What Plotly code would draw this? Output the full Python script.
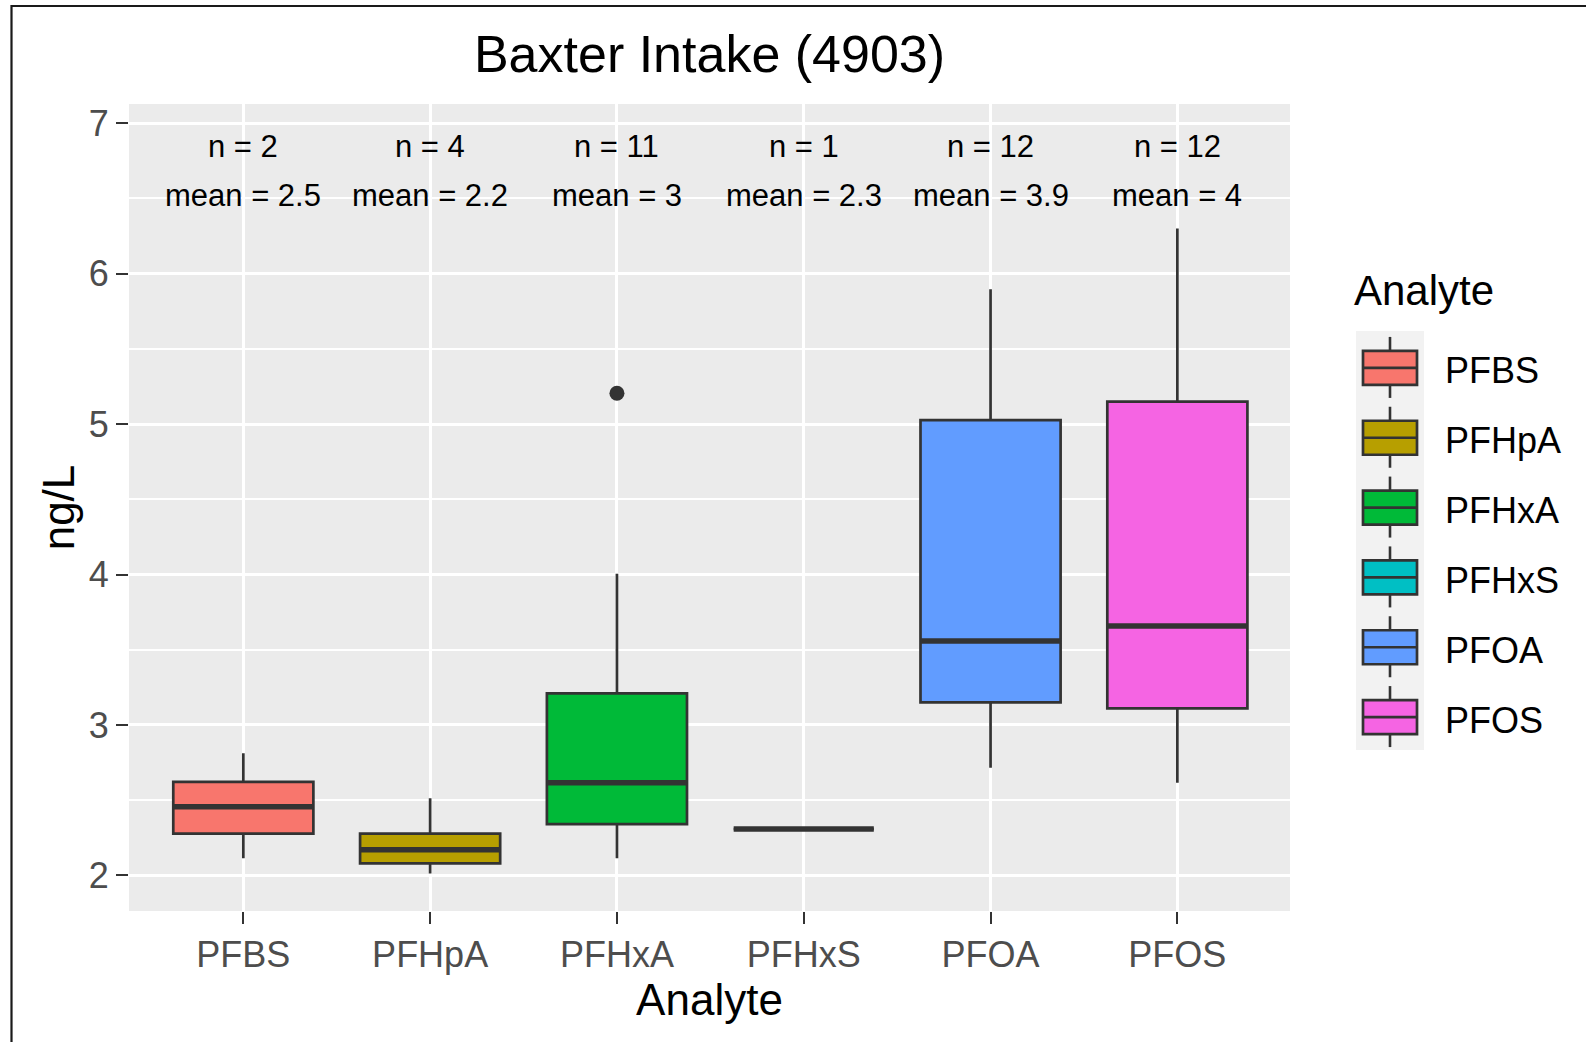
import plotly.graph_objects as go

# ---------------- data ----------------
analytes = ["PFBS", "PFHpA", "PFHxA", "PFHxS", "PFOA", "PFOS"]
lower_whisker = [2.113, 2.013, 2.113, 2.308, 2.716, 2.616]
q1_vals = [2.278, 2.080, 2.341, 2.308, 3.150, 3.110]
median_vals = [2.456, 2.171, 2.616, 2.308, 3.558, 3.658]
q3_vals = [2.622, 2.278, 3.210, 2.308, 5.027, 5.149]
upper_whisker = [2.811, 2.512, 4.005, 2.308, 5.896, 6.300]
outlier_analyte = ["PFHxA"]
outlier_vals = [5.205]
n_counts = [2, 4, 11, 1, 12, 12]
mean_labels = ["2.5", "2.2", "3", "2.3", "3.9", "4"]
colors = ["#F8766D", "#B79F00", "#00BA38", "#00BFC4", "#619CFF", "#F564E3"]
y_ticks = [2, 3, 4, 5, 6, 7]

# ---------------- layout geometry ----------------
W, H = 1586, 1042
L, R, T, B = 129, 296, 104, 131
PW, PH = W - L - R, H - T - B
FONT = "Arial, Liberation Sans, sans-serif"
EDGE = "#333333"
BOX_W = 0.75


def xp(px):
    return (px - L) / PW


def yp(py):
    return (H - B - py) / PH


fig = go.Figure()
pos = list(range(len(analytes)))

for i, a in enumerate(analytes):
    fig.add_trace(go.Box(
        x=[i], q1=[q1_vals[i]], median=[median_vals[i]], q3=[q3_vals[i]],
        lowerfence=[lower_whisker[i]], upperfence=[upper_whisker[i]],
        name=a, fillcolor=colors[i], line=dict(color=EDGE, width=2.7),
        width=BOX_W, whiskerwidth=0, boxpoints=False, showlegend=False,
        hoverinfo="skip"))

# thicker median lines (ggplot style)
for i, a in enumerate(analytes):
    fig.add_trace(go.Scatter(
        x=[i - BOX_W / 2, i + BOX_W / 2], y=[median_vals[i], median_vals[i]],
        mode="lines", line=dict(color=EDGE, width=5.5), showlegend=False,
        hoverinfo="skip"))

# outliers
fig.add_trace(go.Scatter(
    x=[analytes.index(a) for a in outlier_analyte], y=outlier_vals,
    mode="markers", marker=dict(color=EDGE, size=15), showlegend=False,
    hoverinfo="skip"))

# n / mean labels
N_Y, MEAN_Y = 6.846, 6.523
for i, a in enumerate(analytes):
    fig.add_annotation(x=i, y=N_Y, text=f"n = {n_counts[i]}", showarrow=False,
                       font=dict(family=FONT, size=31, color="#000000"),
                       xanchor="center", yanchor="middle")
    fig.add_annotation(x=i, y=MEAN_Y, text=f"mean = {mean_labels[i]}", showarrow=False,
                       font=dict(family=FONT, size=31, color="#000000"),
                       xanchor="center", yanchor="middle")

shapes = []
# outer frame
shapes.append(dict(type="rect", xref="paper", yref="paper",
                   x0=xp(11.5), x1=xp(1620), y0=yp(1080), y1=yp(6),
                   line=dict(color="#1a1a1a", width=2.2), fillcolor="rgba(0,0,0,0)",
                   layer="above"))

# manual ggplot-style legend
LEG_X0, LEG_X1 = 1356, 1424
LEG_Y0, LEG_Y1 = 331, 750
shapes.append(dict(type="rect", xref="paper", yref="paper",
                   x0=xp(LEG_X0), x1=xp(LEG_X1), y0=yp(LEG_Y1), y1=yp(LEG_Y0),
                   line=dict(width=0), fillcolor="#F2F2F2", layer="above"))
fig.add_annotation(xref="paper", yref="paper", x=xp(1352), y=yp(290),
                   text="Analyte", showarrow=False, xanchor="left", yanchor="middle",
                   font=dict(family=FONT, size=42, color="#000000"))
cell = (LEG_Y1 - LEG_Y0) / len(analytes)
bx0, bx1, bxc = 1363, 1417, 1390
for i, a in enumerate(analytes):
    cy = LEG_Y0 + cell * (i + 0.5) + 2
    top, bot = cy - 17, cy + 17
    shapes.append(dict(type="line", xref="paper", yref="paper",
                       x0=xp(bxc), x1=xp(bxc), y0=yp(cy - 31), y1=yp(top),
                       line=dict(color=EDGE, width=2.6), layer="above"))
    shapes.append(dict(type="line", xref="paper", yref="paper",
                       x0=xp(bxc), x1=xp(bxc), y0=yp(bot), y1=yp(cy + 30),
                       line=dict(color=EDGE, width=2.6), layer="above"))
    shapes.append(dict(type="rect", xref="paper", yref="paper",
                       x0=xp(bx0), x1=xp(bx1), y0=yp(bot), y1=yp(top),
                       line=dict(color=EDGE, width=2.7), fillcolor=colors[i], layer="above"))
    shapes.append(dict(type="line", xref="paper", yref="paper",
                       x0=xp(bx0), x1=xp(bx1), y0=yp(cy), y1=yp(cy),
                       line=dict(color=EDGE, width=2.7), layer="above"))
    fig.add_annotation(xref="paper", yref="paper", x=xp(1443), y=yp(cy + 3),
                       text=a, showarrow=False, xanchor="left", yanchor="middle",
                       font=dict(family=FONT, size=36, color="#000000"))

fig.update_layout(
    width=W, height=H, autosize=False,
    margin=dict(l=L, r=R, t=T, b=B, pad=0),
    paper_bgcolor="#FFFFFF", plot_bgcolor="#EBEBEB",
    showlegend=False, shapes=shapes,
    title=dict(text="Baxter Intake (4903)", x=0.5, xref="paper", xanchor="center",
               y=1 - 54 / H, yanchor="middle", yref="container",
               font=dict(family=FONT, size=52, color="#000000")),
    font=dict(family=FONT),
)

fig.update_xaxes(
    range=[-0.612, 5.603], tickmode="array", tickvals=pos, ticktext=analytes,
    showgrid=True, gridcolor="#FFFFFF", gridwidth=2.7, zeroline=False,
    ticks="outside", ticklen=12, tickwidth=2.4, tickcolor=EDGE,
    tickfont=dict(family=FONT, size=36, color="#4D4D4D"), ticklabelstandoff=0,
    showline=False,
    title=dict(text="Analyte", standoff=8, font=dict(family=FONT, size=44, color="#000000")),
)
fig.update_yaxes(
    range=[1.763, 7.128], tickmode="array", tickvals=y_ticks,
    showgrid=True, gridcolor="#FFFFFF", gridwidth=2.7, zeroline=False,
    minor=dict(dtick=0.5, tick0=0, showgrid=True, gridcolor="#FFFFFF", gridwidth=1.8),
    ticks="outside", ticklen=12, tickwidth=2.4, tickcolor=EDGE,
    tickfont=dict(family=FONT, size=36, color="#4D4D4D"), ticklabelstandoff=0,
    showline=False,
    title=dict(text="ng/L", standoff=0, font=dict(family=FONT, size=44, color="#000000")),
)

fig.write_html("out.html", config={"displayModeBar": False},
               post_script="document.body.style.margin='0';")
